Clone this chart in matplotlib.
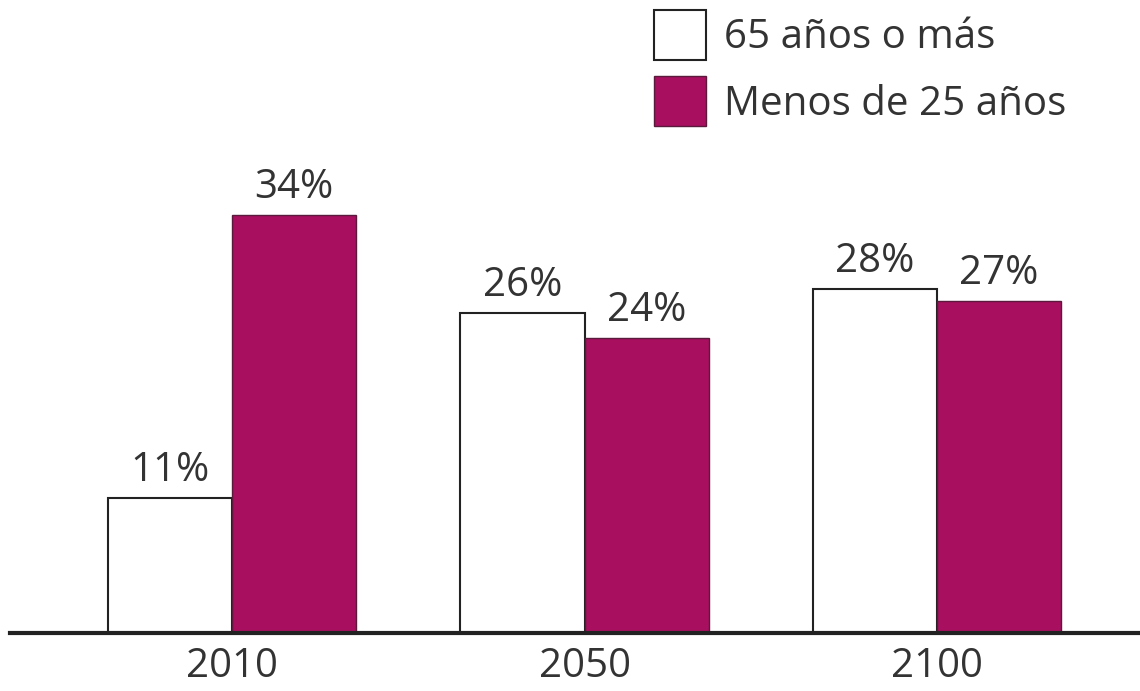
import numpy as np
import matplotlib.pyplot as plt

plt.rcParams['font.family'] = ['Open Sans', 'DejaVu Sans']

years = ['2010', '2050', '2100']
mayores = [11, 26, 28]      # 65 años o más
jovenes = [34, 24, 27]      # Menos de 25 años

magenta = '#a8105f'
fs = 29

fig = plt.figure(figsize=(11.4, 6.91), dpi=100)
ax = fig.add_axes([10 / 1140, 58 / 691, 1130 / 1140, 633 / 691])

x = np.arange(len(years))
w = 0.352
b1 = ax.bar(x - w / 2, mayores, w, color='white', edgecolor='#222222', linewidth=1.5,
            label='65 años o más')
b2 = ax.bar(x + w / 2, jovenes, w, color=magenta, edgecolor='#5a1a3c', linewidth=1.0,
            label='Menos de 25 años')

for bars, vals in [(b1, mayores), (b2, jovenes)]:
    ax.bar_label(bars, labels=[f'{v}%' for v in vals], padding=5,
                 fontsize=fs, color='#333333')

ax.set_xlim(-0.630, 2.576)
ax.set_ylim(0, 633 / 12.3)
ax.set_xticks(x)
ax.set_xticklabels(years, fontsize=fs, color='#333333')
ax.tick_params(axis='x', length=0, pad=10)
ax.set_yticks([])
for s in ['top', 'right', 'left']:
    ax.spines[s].set_visible(False)
ax.spines['bottom'].set_linewidth(3)
ax.spines['bottom'].set_color('#222222')

fs_px = fs * 100 / 72
leg = ax.legend(loc='upper left', bbox_to_anchor=(654 / 1140, 1 - 10 / 691),
                bbox_transform=fig.transFigure, frameon=False, fontsize=fs,
                borderpad=0, borderaxespad=0,
                handlelength=52 / fs_px, handleheight=62 / fs_px,
                handletextpad=18 / fs_px, labelspacing=16 / fs_px)
for t in leg.get_texts():
    t.set_color('#333333')

fig.savefig('out.png', dpi=100)
